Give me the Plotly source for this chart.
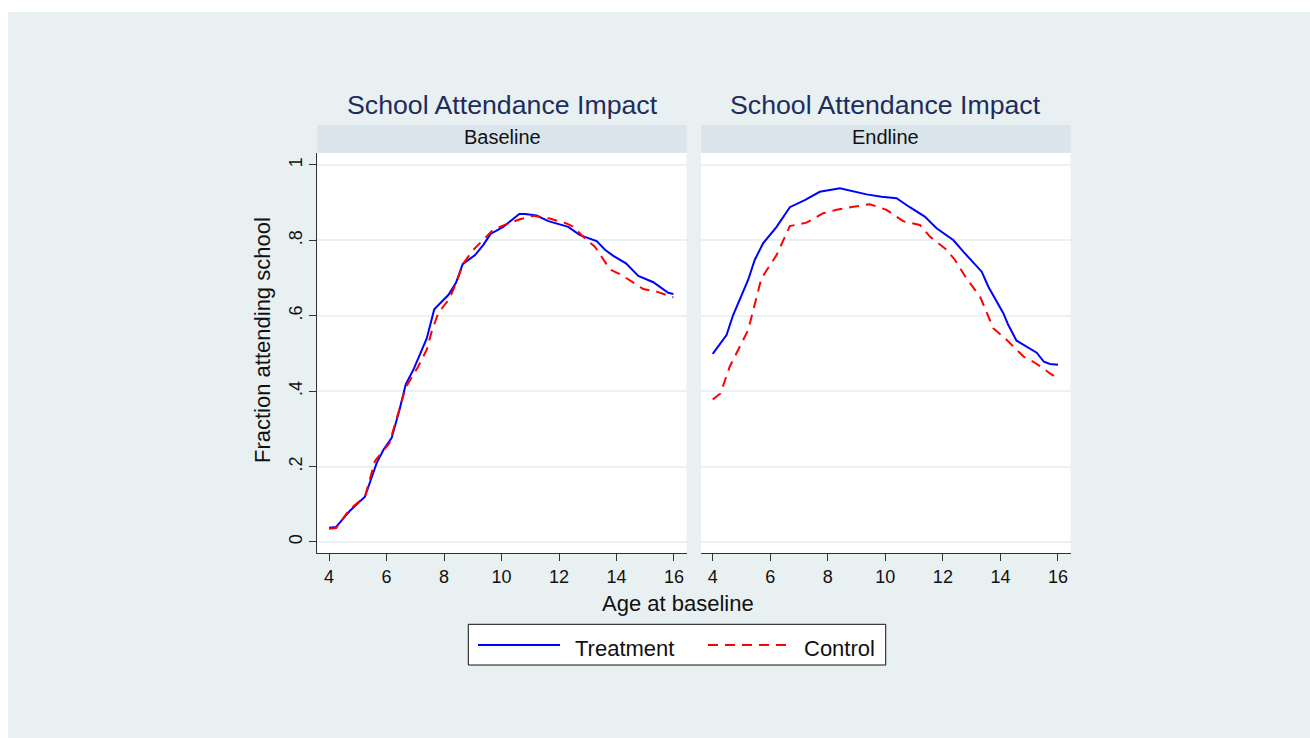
import plotly.graph_objects as go

# ---- data: fraction attending school by age at baseline ----
base_t_age = [4.0, 4.25, 4.73, 5.25, 5.66, 5.9, 6.18, 6.45, 6.67, 6.93, 7.4, 7.66, 8.15, 8.42, 8.65,
              9.08, 9.37, 9.62, 10.06, 10.62, 10.82, 11.22, 11.63, 12.32, 12.73, 13.31, 13.6,
              13.89, 14.33, 14.76, 15.28, 15.51, 15.8, 15.98]
base_t = [0.038, 0.040, 0.083, 0.120, 0.210, 0.245, 0.276, 0.350, 0.418, 0.456, 0.540, 0.617, 0.655,
          0.688, 0.737, 0.761, 0.788, 0.817, 0.836, 0.870, 0.870, 0.866, 0.851, 0.836, 0.814,
          0.798, 0.775, 0.759, 0.739, 0.706, 0.689, 0.677, 0.661, 0.658]

base_c_age = [4.0, 4.25, 4.7, 5.25, 5.6, 6.1, 6.67, 7.1, 7.4, 7.57, 7.8, 8.19, 8.44, 8.67, 9.02,
              9.43, 9.72, 10.18, 10.64, 11.1, 11.68, 12.26, 12.5, 12.96, 13.25, 13.6, 13.77,
              14.18, 14.7, 14.93, 15.4, 15.98]
base_c = [0.035, 0.037, 0.085, 0.120, 0.215, 0.262, 0.410, 0.465, 0.510, 0.558, 0.607, 0.646,
          0.690, 0.739, 0.775, 0.808, 0.829, 0.843, 0.856, 0.865, 0.858, 0.845, 0.836, 0.801,
          0.783, 0.743, 0.723, 0.708, 0.682, 0.671, 0.664, 0.649]

end_t_age = [4.0, 4.48, 4.71, 5.23, 5.46, 5.75, 6.22, 6.68, 7.2, 7.72, 8.42, 9.35, 9.87, 10.39,
             10.85, 11.37, 11.78, 12.36, 12.71, 13.35, 13.58, 14.1, 14.27, 14.56, 15.26, 15.51,
             15.72, 16.0]
end_t = [0.499, 0.549, 0.602, 0.695, 0.748, 0.792, 0.836, 0.888, 0.907, 0.929, 0.938, 0.922,
         0.916, 0.912, 0.888, 0.863, 0.832, 0.801, 0.770, 0.717, 0.677, 0.607, 0.576, 0.534,
         0.502, 0.478, 0.472, 0.470]

end_c_age = [4.0, 4.27, 4.59, 5.23, 5.69, 6.22, 6.68, 7.26, 7.84, 8.3, 8.88, 9.46, 10.04, 10.62,
             11.2, 11.55, 12.13, 12.42, 12.82, 13.29, 13.75, 14.22, 14.8, 15.14, 15.49, 15.72, 16.0]
end_c = [0.378, 0.394, 0.465, 0.562, 0.699, 0.761, 0.838, 0.847, 0.872, 0.881, 0.889, 0.896,
         0.881, 0.851, 0.841, 0.810, 0.775, 0.748, 0.699, 0.651, 0.567, 0.536, 0.492, 0.478,
         0.461, 0.447, 0.434]

x_ticks = [4, 6, 8, 10, 12, 14, 16]
y_ticks = [0, 0.2, 0.4, 0.6, 0.8, 1]
y_tick_text = ["0", ".2", ".4", ".6", ".8", "1"]
panel_names = ["Baseline", "Endline"]
series_names = ["Treatment", "Control"]
chart_title = "School Attendance Impact"

# ---- styling ----
W, H = 1310, 738
FONT = "Liberation Sans, Arial, sans-serif"
OUTER_BG = "#e8f0f2"
STRIP_BG = "#d9e5eb"
GRID = "#e9f1f3"
AXIS = "#333333"
TITLE_COL = "#1e2d5c"
BLUE = "#0000ff"
RED = "#ff0000"


def px(x):
    return x / W


def py(y):
    return 1 - y / H


left_dom = [px(317.3), px(686.7)]
right_dom = [px(701.0), px(1070.7)]
y_dom = [py(553.0), py(153.0)]
x_range = [3.593, 16.442]
y_range = [-0.0292, 1.0318]

fig = go.Figure()

line_t = dict(color=BLUE, width=2)
line_c = dict(color=RED, width=2, dash="10px,7px")

fig.add_trace(go.Scatter(x=base_t_age, y=base_t, mode="lines", line=line_t,
                         name=series_names[0], showlegend=False, xaxis="x", yaxis="y"))
fig.add_trace(go.Scatter(x=base_c_age, y=base_c, mode="lines", line=line_c,
                         name=series_names[1], showlegend=False, xaxis="x", yaxis="y"))
fig.add_trace(go.Scatter(x=end_t_age, y=end_t, mode="lines", line=line_t,
                         name=series_names[0], showlegend=False, xaxis="x2", yaxis="y2"))
fig.add_trace(go.Scatter(x=end_c_age, y=end_c, mode="lines", line=line_c,
                         name=series_names[1], showlegend=False, xaxis="x2", yaxis="y2"))

xaxis_common = dict(range=x_range, tickvals=x_ticks, ticks="outside", ticklen=7, tickwidth=1.3,
                    tickcolor=AXIS, showline=True, linecolor=AXIS, linewidth=1.3,
                    showgrid=False, zeroline=False, automargin=False,
                    tickfont=dict(family=FONT, size=18, color="#111111"))
yaxis_common = dict(range=y_range, tickvals=y_ticks, showgrid=True, gridcolor=GRID,
                    gridwidth=1.5, zeroline=False, automargin=False)

shapes = [
    # page background
    dict(type="rect", xref="paper", yref="paper", x0=px(8), x1=1, y0=0, y1=py(12),
         fillcolor=OUTER_BG, line=dict(width=0), layer="below"),
]
for dom in (left_dom, right_dom):
    shapes.append(dict(type="rect", xref="paper", yref="paper", x0=dom[0], x1=dom[1],
                       y0=y_dom[0], y1=y_dom[1], fillcolor="white", line=dict(width=0),
                       layer="below"))
    shapes.append(dict(type="rect", xref="paper", yref="paper", x0=dom[0], x1=dom[1],
                       y0=py(152.7), y1=py(125.0), fillcolor=STRIP_BG, line=dict(width=0),
                       layer="below"))

# legend box and keys
shapes.append(dict(type="rect", xref="paper", yref="paper", x0=px(468.3), x1=px(885.7),
                   y0=py(665.0), y1=py(624.3), fillcolor="white",
                   line=dict(color="#111111", width=1)))
shapes.append(dict(type="line", xref="paper", yref="paper", x0=px(478), x1=px(560),
                   y0=py(645), y1=py(645), line=dict(color=BLUE, width=2)))
shapes.append(dict(type="line", xref="paper", yref="paper", x0=px(708), x1=px(792),
                   y0=py(645), y1=py(645), line=dict(color=RED, width=2, dash="10px,7px")))

annotations = []
for dom, name in zip((left_dom, right_dom), panel_names):
    cx = (dom[0] + dom[1]) / 2
    annotations.append(dict(text=chart_title, x=cx, y=py(105), xref="paper", yref="paper",
                            xanchor="center", yanchor="middle", showarrow=False,
                            font=dict(family=FONT, size=26.7, color=TITLE_COL)))
    annotations.append(dict(text=name, x=cx, y=py(137), xref="paper", yref="paper",
                            xanchor="center", yanchor="middle", showarrow=False,
                            font=dict(family=FONT, size=20, color="#111111")))

annotations.append(dict(text="Age at baseline", x=px(677.5), y=py(603), xref="paper",
                        yref="paper", xanchor="center", yanchor="middle", showarrow=False,
                        font=dict(family=FONT, size=22, color="#111111")))
annotations.append(dict(text="Fraction attending school", x=px(262), y=py(340), xref="paper",
                        yref="paper", xanchor="center", yanchor="middle", textangle=-90,
                        showarrow=False, font=dict(family=FONT, size=22, color="#111111")))
annotations.append(dict(text=series_names[0], x=px(573), y=py(648), xref="paper", yref="paper",
                        xanchor="left", yanchor="middle", showarrow=False,
                        font=dict(family=FONT, size=22, color="#111111")))
annotations.append(dict(text=series_names[1], x=px(802), y=py(648), xref="paper", yref="paper",
                        xanchor="left", yanchor="middle", showarrow=False,
                        font=dict(family=FONT, size=22, color="#111111")))

fig.update_layout(
    width=W, height=H,
    margin=dict(l=0, r=0, t=0, b=0, pad=0),
    paper_bgcolor="white",
    plot_bgcolor="rgba(0,0,0,0)",
    showlegend=False,
    font=dict(family=FONT, color="#111111"),
    xaxis=dict(domain=left_dom, anchor="y", **xaxis_common),
    xaxis2=dict(domain=right_dom, anchor="y2", **xaxis_common),
    yaxis=dict(domain=y_dom, anchor="x", ticktext=y_tick_text, tickangle=-90,
               ticks="outside", ticklen=7, tickwidth=1.3, tickcolor=AXIS,
               showline=True, linecolor=AXIS, linewidth=1.3,
               tickfont=dict(family=FONT, size=18, color="#111111"), **yaxis_common),
    yaxis2=dict(domain=y_dom, anchor="x2", showticklabels=False, ticks="",
                showline=False, **yaxis_common),
    shapes=shapes,
    annotations=annotations,
)

fig.write_html("out.html")
